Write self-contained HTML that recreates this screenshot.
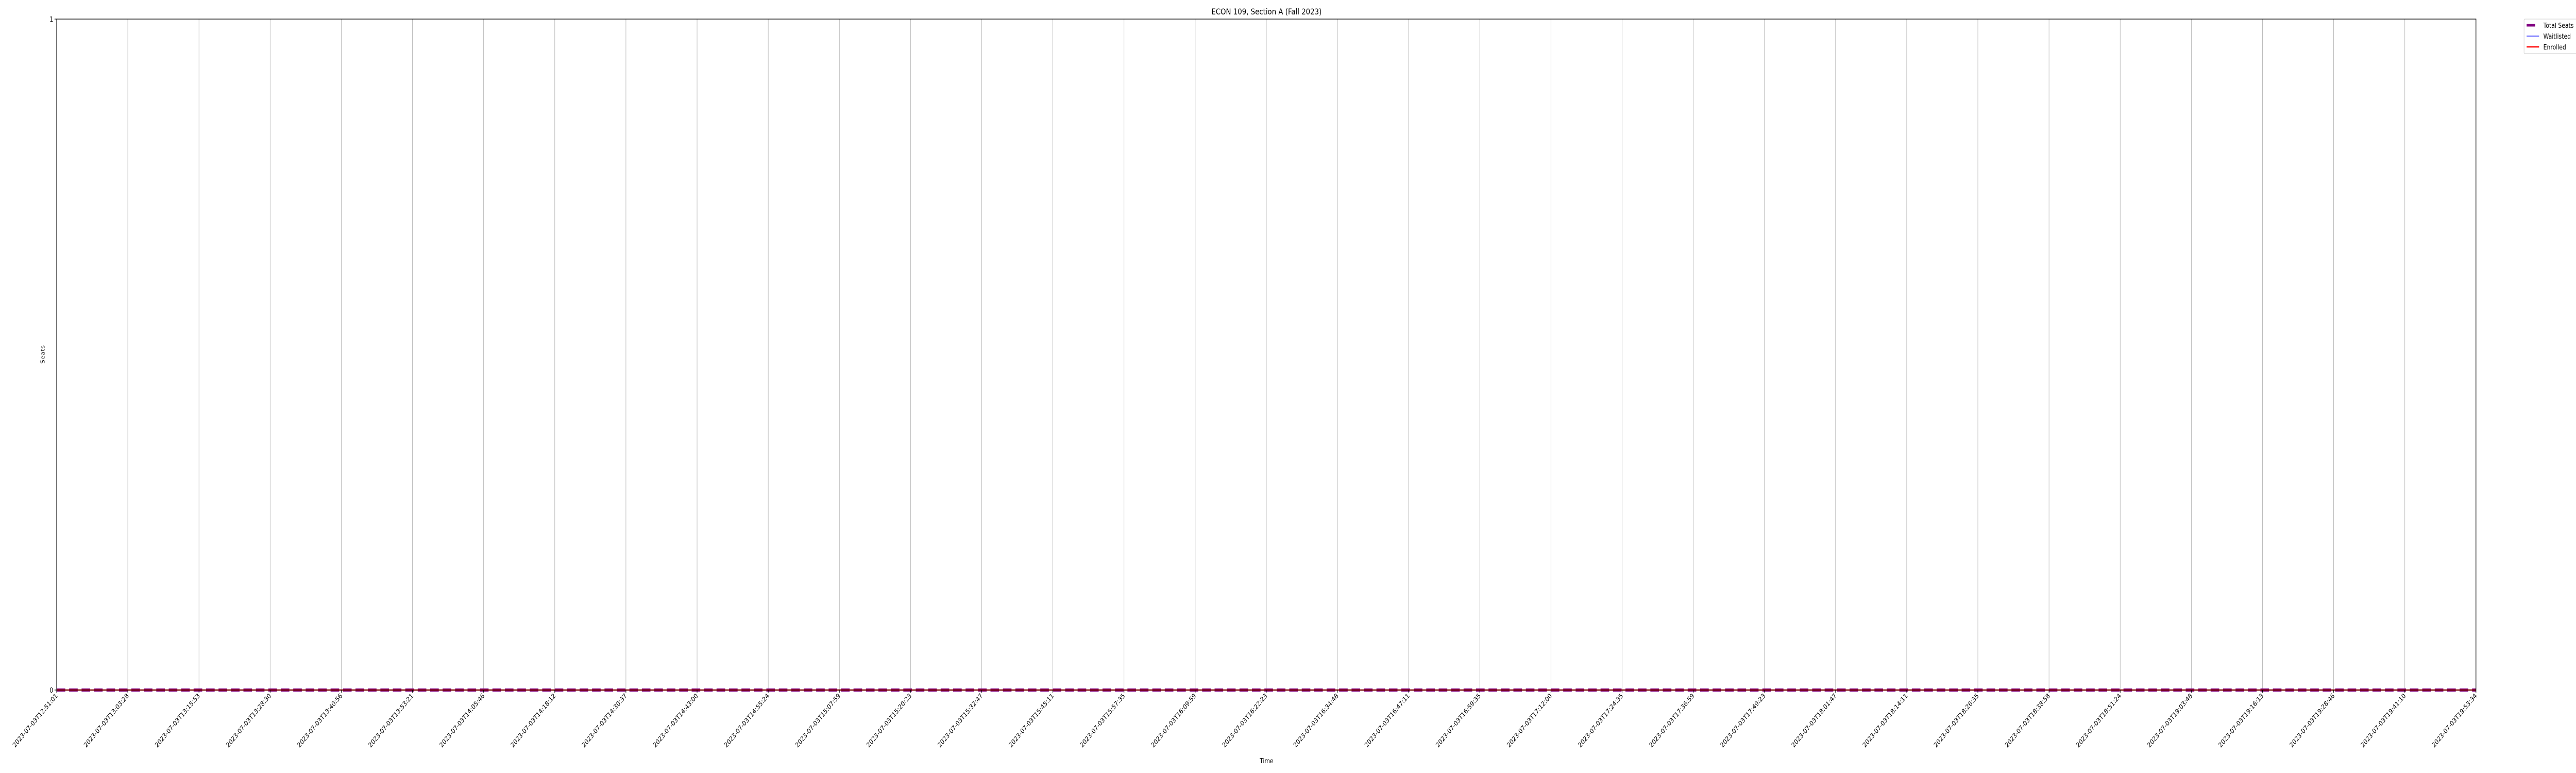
<!DOCTYPE html>
<html><head><meta charset="utf-8"><style>
html,body{margin:0;padding:0;background:#fff;overflow:hidden;width:100%;height:100%;}
#chart{display:block;width:100vw;height:100vh;}
svg text{font-family:"DejaVu Sans","Liberation Sans",sans-serif;fill:#000;}
</style></head><body>
<svg id="chart" viewBox="0 0 6000 1500" preserveAspectRatio="none" xmlns="http://www.w3.org/2000/svg">
<rect width="6000" height="1500" fill="#fff"/>
<text x="2950" y="28" font-size="16" text-anchor="middle">ECON 109, Section A (Fall 2023)</text>
<g id="grid"></g>
<g id="series"></g>
<rect x="132" y="37" width="5635" height="1302" fill="none" stroke="#000" stroke-width="1.3"/>
<g id="xticks"></g>
<g id="yticks"></g>
<text x="104" y="688" font-size="13" text-anchor="middle" transform="rotate(-90 104 688)">Seats</text>
<text x="2950" y="1481" font-size="13" text-anchor="middle">Time</text>
<g>
<rect x="5879" y="37" width="130" height="67" fill="#fff" stroke="#ccc" stroke-width="1" rx="2"/>
<line x1="5885" y1="49" x2="5905" y2="49" stroke="#800080" stroke-width="5"/>
<text x="5924" y="54" font-size="13">Total Seats</text>
<line x1="5885" y1="70" x2="5914" y2="70" stroke="#0000ff" stroke-width="1.2"/>
<text x="5924" y="75" font-size="13">Waitlisted</text>
<line x1="5885" y1="91" x2="5914" y2="91" stroke="#ff0000" stroke-width="2.5"/>
<text x="5924" y="96" font-size="13">Enrolled</text>
</g>
</svg>
<script>
const timeLabels = ["2023-07-03T12:51:01","2023-07-03T13:03:28","2023-07-03T13:15:53","2023-07-03T13:28:30","2023-07-03T13:40:56","2023-07-03T13:53:21","2023-07-03T14:05:46","2023-07-03T14:18:12","2023-07-03T14:30:37","2023-07-03T14:43:00","2023-07-03T14:55:24","2023-07-03T15:07:59","2023-07-03T15:20:23","2023-07-03T15:32:47","2023-07-03T15:45:11","2023-07-03T15:57:35","2023-07-03T16:09:59","2023-07-03T16:22:23","2023-07-03T16:34:48","2023-07-03T16:47:11","2023-07-03T16:59:35","2023-07-03T17:12:00","2023-07-03T17:24:35","2023-07-03T17:36:59","2023-07-03T17:49:23","2023-07-03T18:01:47","2023-07-03T18:14:11","2023-07-03T18:26:35","2023-07-03T18:38:58","2023-07-03T18:51:24","2023-07-03T19:03:48","2023-07-03T19:16:13","2023-07-03T19:28:46","2023-07-03T19:41:10","2023-07-03T19:53:34"];
const totalSeats = [0,0,0,0,0,0,0,0,0,0,0,0,0,0,0,0,0,0,0,0,0,0,0,0,0,0,0,0,0,0,0,0,0,0,0];
const waitlisted = [0,0,0,0,0,0,0,0,0,0,0,0,0,0,0,0,0,0,0,0,0,0,0,0,0,0,0,0,0,0,0,0,0,0,0];
const enrolled = [0,0,0,0,0,0,0,0,0,0,0,0,0,0,0,0,0,0,0,0,0,0,0,0,0,0,0,0,0,0,0,0,0,0,0];
const yTicks = [0,1];

const NS="http://www.w3.org/2000/svg";
const L=132,R=5767,T=37,B=1339,yMin=0,yMax=1;
function xs(i){return L+(R-L)*i/(timeLabels.length-1);}
function ys(v){return B-(B-T)*(v-yMin)/(yMax-yMin);}
function mk(tag,attrs,parent){const e=document.createElementNS(NS,tag);for(const k in attrs)e.setAttribute(k,attrs[k]);parent.appendChild(e);return e;}
const grid=document.getElementById('grid'),xt=document.getElementById('xticks'),yt=document.getElementById('yticks'),ser=document.getElementById('series');
timeLabels.forEach((lab,i)=>{
  const x=xs(i);
  const g=mk('line',{x1:x,y1:T,x2:x,y2:B,stroke:'#b0b0b0','stroke-width':1},grid);
  
  
  const tk=mk('line',{x1:x,y1:B,x2:x,y2:B+5,stroke:'#000','stroke-width':1.2},xt);
  
  
  const t=mk('text',{x:x+3,y:B+12,'font-size':13,'text-anchor':'end',transform:`rotate(-45 ${x+3} ${B+12})`},xt);
  t.textContent=lab;
  
  
});
yTicks.forEach(v=>{
  const y=ys(v);
  const tk=mk('line',{x1:L-5,y1:y,x2:L,y2:y,stroke:'#000','stroke-width':1.2},yt);
  
  
  const t=mk('text',{x:L-8,y:y+5,'font-size':13,'text-anchor':'end'},yt);
  t.textContent=String(v);
  
  
});
function pts(arr){return arr.map((v,i)=>xs(i)+','+ys(v)).join(' ');}
const p1=mk('polyline',{points:pts(totalSeats),fill:'none',stroke:'#800080','stroke-width':6,'stroke-dasharray':'20 9'},ser);


const p2=mk('polyline',{points:pts(waitlisted),fill:'none',stroke:'#0000ff','stroke-width':1.2},ser);


const p3=mk('polyline',{points:pts(enrolled),fill:'none',stroke:'#ff0000','stroke-width':2.5},ser);


</script>
</body></html>
